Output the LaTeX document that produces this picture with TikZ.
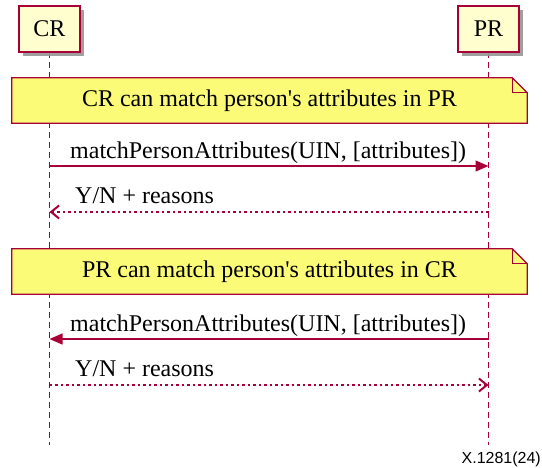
\documentclass[tikz,border=0pt]{standalone}
\usepackage{fontspec}
\setmainfont{Liberation Serif}
\newfontfamily\captionfont{Liberation Sans}
\usetikzlibrary{arrows.meta,shadows}

\definecolor{umlred}{HTML}{A80036}
\definecolor{partfill}{HTML}{FEFECE}
\definecolor{notefill}{HTML}{FBFB77}
\definecolor{shadowgray}{HTML}{959595}

\begin{document}
\begin{tikzpicture}[x=1pt,y=-1pt,
  bigtext/.style={font=\fontsize{24}{28}\selectfont},
  participant/.style={bigtext, draw=umlred, fill=partfill, line width=1.2pt,
    minimum width=61pt, minimum height=46pt, inner sep=0pt,
    drop shadow={shadow xshift=4pt, shadow yshift=-4pt, fill=shadowgray, opacity=0.9}},
  lifeline/.style={draw=umlred, line width=1.2pt, dash pattern=on 6pt off 4pt},
  notebox/.style={bigtext, minimum width=515pt, minimum height=45pt, inner sep=0pt},
  noteborder/.style={draw=umlred, fill=notefill, line width=1.2pt, line join=miter},
  noteshadow/.style={fill=shadowgray, opacity=0.9},
  syncmsg/.style={draw=umlred, line width=1.2pt, -{Triangle[length=13pt,width=11pt]}},
  replymsg/.style={draw=umlred, line width=1.2pt, dash pattern=on 2.5pt off 3pt,
    -{Straight Barb[length=8pt,width=13pt,line width=2pt]}},
  msglabel/.style={bigtext, anchor=base west, inner sep=0pt}
]
\useasboundingbox (0,0) rectangle (542,468);

% lifelines
\coordinate (crend) at (49.5,445);
\coordinate (prend) at (488.5,445);
\draw[lifeline] (49.5,52) -- (crend);
\draw[lifeline] (488.5,52) -- (prend);

% participants
\node[participant] (cr) at (49.5,29) {CR};
\node[participant] (pr) at (488.5,29) {PR};

% notes spanning both lifelines
\node[notebox] (note1) at (269.5,100.5) {};
\node[notebox] (note2) at (269.5,271.5) {};
\foreach \n in {note1,note2}{
  \fill[noteshadow, shift={(4,4)}] (\n.north west) -- ([xshift=-15pt]\n.north east)
    -- ([yshift=-15pt]\n.north east) -- (\n.south east) -- (\n.south west) -- cycle;
  \path[noteborder] (\n.north west) -- ([xshift=-15pt]\n.north east)
    -- ([yshift=-15pt]\n.north east) -- (\n.south east) -- (\n.south west) -- cycle;
  \draw[umlred, line width=1.2pt] ([xshift=-15pt]\n.north east) -- ++(0,15)
    -- ([yshift=-15pt]\n.north east);
}
\node[bigtext] at (note1) {CR can match person\textquotesingle s attributes in PR};
\node[bigtext] at (note2) {PR can match person\textquotesingle s attributes in CR};

% message anchors on the lifelines
\coordinate (cr1) at (cr.south |- 0,166);
\coordinate (pr1) at (pr.south |- 0,166);
\coordinate (cr2) at (cr.south |- 0,212);
\coordinate (pr2) at (pr.south |- 0,212);
\coordinate (cr3) at (cr.south |- 0,339);
\coordinate (pr3) at (pr.south |- 0,339);
\coordinate (cr4) at (cr.south |- 0,385);
\coordinate (pr4) at (pr.south |- 0,385);

% messages
\draw[syncmsg] (cr1) -- (pr1);
\node[msglabel] (lab1) at (70,159) {matchPersonAttributes(UIN, [attributes])};
\draw[replymsg] (pr2) -- (cr2);
\node[msglabel] (lab2) at (75,204) {Y/N + reasons};
\draw[syncmsg] (pr3) -- (cr3);
\node[msglabel] (lab3) at (70,332) {matchPersonAttributes(UIN, [attributes])};
\draw[replymsg] (cr4) -- (pr4);
\node[msglabel] (lab4) at (75,377) {Y/N + reasons};

% figure number
\node[anchor=base east, inner sep=0pt, font=\captionfont\fontsize{16}{18}\selectfont]
  (fignum) at (541,464) {X.1281(24)};
\end{tikzpicture}
\end{document}
